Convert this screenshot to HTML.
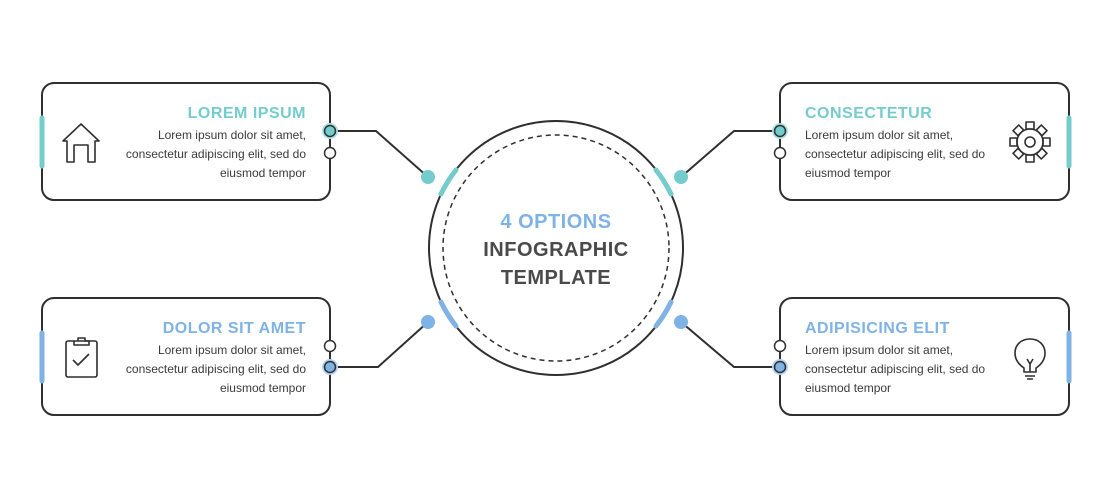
<!DOCTYPE html>
<html><head><meta charset="utf-8"><style>
html,body{margin:0;padding:0;background:#fff;width:1111px;height:500px;overflow:hidden}
svg{display:block}
text{font-family:"Liberation Sans",sans-serif}
</style></head><body>
<svg width="1111" height="500" viewBox="0 0 1111 500" xmlns="http://www.w3.org/2000/svg">
<g fill="none" stroke="#2f2f2f" stroke-width="2">
<rect x="42" y="83" width="288" height="117" rx="12"/>
<rect x="42" y="298" width="288" height="117" rx="12"/>
<rect x="780" y="83" width="289" height="117" rx="12"/>
<rect x="780" y="298" width="289" height="117" rx="12"/>
<circle cx="556" cy="248" r="127"/>
<circle cx="556" cy="248" r="113" stroke-width="1.5" stroke-dasharray="5 4"/>
<polyline points="330,131 376,131 428,177"/>
<polyline points="330,367 378,367 428,322"/>
<polyline points="780,131 734,131 681,177"/>
<polyline points="780,367 734,367 681,322"/>
</g>
<g stroke-width="5" stroke-linecap="round">
<line x1="42" y1="118" x2="42" y2="166" stroke="#74cccd"/>
<line x1="1069" y1="118" x2="1069" y2="166" stroke="#74cccd"/>
<line x1="42" y1="333" x2="42" y2="381" stroke="#7fb2e5"/>
<line x1="1069" y1="333" x2="1069" y2="381" stroke="#7fb2e5"/>
</g>
<g fill="none" stroke-width="5" stroke-linecap="round">
<path d="M441 194 A127 127 0 0 1 456 170" stroke="#74cccd"/>
<path d="M656 170 A127 127 0 0 1 671 194" stroke="#74cccd"/>
<path d="M456 326 A127 127 0 0 1 441 302" stroke="#7fb2e5"/>
<path d="M671 302 A127 127 0 0 1 656 326" stroke="#7fb2e5"/>
</g>
<circle cx="428" cy="177" r="7" fill="#74cccd"/>
<circle cx="681" cy="177" r="7" fill="#74cccd"/>
<circle cx="428" cy="322" r="7" fill="#7fb2e5"/>
<circle cx="681" cy="322" r="7" fill="#7fb2e5"/>
<g stroke="#2f2f2f" stroke-width="1.5">
<circle cx="330" cy="131" r="8" fill="#a9e0e0" stroke="none"/>
<circle cx="330" cy="131" r="5.5" fill="#74cccd"/>
<circle cx="330" cy="153" r="5.5" fill="#fff"/>
<circle cx="780" cy="131" r="8" fill="#a9e0e0" stroke="none"/>
<circle cx="780" cy="131" r="5.5" fill="#74cccd"/>
<circle cx="780" cy="153" r="5.5" fill="#fff"/>
<circle cx="330" cy="367" r="8" fill="#b5d2f0" stroke="none"/>
<circle cx="330" cy="367" r="5.5" fill="#7fb2e5"/>
<circle cx="330" cy="346" r="5.5" fill="#fff"/>
<circle cx="780" cy="367" r="8" fill="#b5d2f0" stroke="none"/>
<circle cx="780" cy="367" r="5.5" fill="#7fb2e5"/>
<circle cx="780" cy="346" r="5.5" fill="#fff"/>
</g>
<!-- icons -->
<g fill="none" stroke="#2f2f2f" stroke-width="1.6" stroke-linejoin="round">
<path d="M63 141 L81 124 L99 141 L95 141 L95 162 L88 162 L88 145 L74 145 L74 162 L67 162 L67 141 Z"/>
<rect x="66" y="341" width="31" height="36" rx="2"/>
<path d="M74 341 L74 345 L89 345 L89 341 L85 341 L85 338 L78 338 L78 341"/>
<path d="M73 360 L78 365 L89 354"/>
<circle cx="1030" cy="142" r="13"/>
<circle cx="1030" cy="142" r="5"/>
<g transform="translate(1030 142)">
<rect x="-4" y="-20" width="8" height="7"/>
<rect x="-4" y="-20" width="8" height="7" transform="rotate(45)"/>
<rect x="-4" y="-20" width="8" height="7" transform="rotate(90)"/>
<rect x="-4" y="-20" width="8" height="7" transform="rotate(135)"/>
<rect x="-4" y="-20" width="8" height="7" transform="rotate(180)"/>
<rect x="-4" y="-20" width="8" height="7" transform="rotate(225)"/>
<rect x="-4" y="-20" width="8" height="7" transform="rotate(270)"/>
<rect x="-4" y="-20" width="8" height="7" transform="rotate(315)"/>
</g>
<path d="M1024 368 C1018 364 1015 359 1015 353 C1015 345 1021 339 1030 339 C1039 339 1045 345 1045 353 C1045 359 1042 364 1036 368 L1036 372 L1024 372 Z"/>
<path d="M1025 376 L1035 376 M1027 379 L1033 379 M1027 359 L1030 364 L1033 359 M1030 364 L1030 372"/>
</g>
<g fill="#ffffff"><circle cx="1030" cy="142" r="11"/></g>
<circle cx="1030" cy="142" r="5" fill="none" stroke="#2f2f2f" stroke-width="1.6"/>
<!-- text -->
<g font-size="16" font-weight="bold" letter-spacing="0.5">
<text x="306" y="118" text-anchor="end" fill="#74cccd">LOREM IPSUM</text>
<text x="306" y="333" text-anchor="end" fill="#7fb2e5">DOLOR SIT AMET</text>
<text x="805" y="118" fill="#74cccd">CONSECTETUR</text>
<text x="805" y="333" fill="#7fb2e5">ADIPISICING ELIT</text>
</g>
<g font-size="12" fill="#3a3a3a">
<text x="306" y="139" text-anchor="end">Lorem ipsum dolor sit amet,</text>
<text x="306" y="158" text-anchor="end">consectetur adipiscing elit, sed do</text>
<text x="306" y="177" text-anchor="end">eiusmod tempor</text>
<text x="306" y="354" text-anchor="end">Lorem ipsum dolor sit amet,</text>
<text x="306" y="373" text-anchor="end">consectetur adipiscing elit, sed do</text>
<text x="306" y="392" text-anchor="end">eiusmod tempor</text>
<text x="805" y="139">Lorem ipsum dolor sit amet,</text>
<text x="805" y="158">consectetur adipiscing elit, sed do</text>
<text x="805" y="177">eiusmod tempor</text>
<text x="805" y="354">Lorem ipsum dolor sit amet,</text>
<text x="805" y="373">consectetur adipiscing elit, sed do</text>
<text x="805" y="392">eiusmod tempor</text>
</g>
<g font-size="20" font-weight="bold" text-anchor="middle" letter-spacing="0.5">
<text x="556" y="228" fill="#7fb2e5">4 OPTIONS</text>
<text x="556" y="256" fill="#4a4a4a">INFOGRAPHIC</text>
<text x="556" y="284" fill="#4a4a4a">TEMPLATE</text>
</g>
</svg>
</body></html>
